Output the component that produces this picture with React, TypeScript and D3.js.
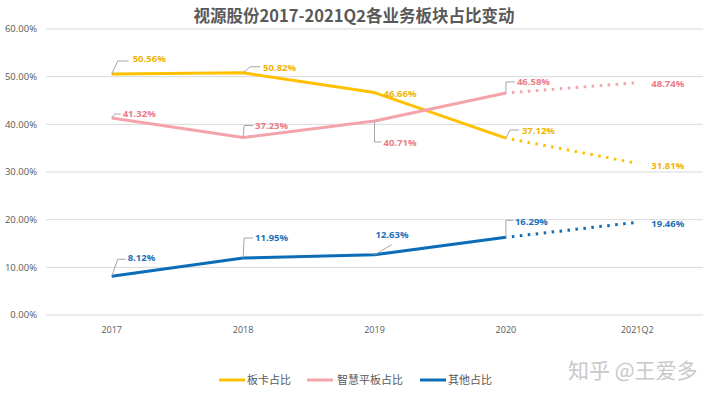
import { useMemo } from "react";
import * as d3 from "d3";

const categories = ["2017", "2018", "2019", "2020", "2021Q2"];
const boardShare = [50.56, 50.82, 46.66, 37.12, 31.81];
const tabletShare = [41.32, 37.23, 40.71, 46.58, 48.74];
const otherShare = [8.12, 11.95, 12.63, 16.29, 19.46];
const yTicks = [0, 10, 20, 30, 40, 50, 60];
const seriesNames = ["板卡占比", "智慧平板占比", "其他占比"];

// label placement per point: dx/dy to label, leader polyline (relative to point)
type Lab = { dx: number; dy: number; leader?: [number, number][] };
const boardLabels: Lab[] = [
  { dx: 21, dy: -15, leader: [[0, 0], [6, -13], [17, -13]] },
  { dx: 20, dy: -5, leader: [[0, 0], [7, -6], [17, -6]] },
  { dx: 9, dy: 1 },
  { dx: 16, dy: -7, leader: [[0, 0], [4, -8], [13, -8]] },
  { dx: 14, dy: 2 },
];
const tabletLabels: Lab[] = [
  { dx: 11, dy: -4, leader: [[0, 0], [3, -4], [9, -4]] },
  { dx: 12, dy: -12, leader: [[0, 0], [1, -12], [10, -12]] },
  { dx: 9, dy: 22, leader: [[0, 0], [0, 21], [7, 21]] },
  { dx: 11, dy: -11, leader: [[0, 0], [0, -11], [9, -11]] },
  { dx: 14, dy: 1 },
];
const otherLabels: Lab[] = [
  { dx: 16, dy: -19, leader: [[0, 0], [6, -17], [14, -17]] },
  { dx: 12, dy: -20, leader: [[0, 0], [1, -20], [10, -20]] },
  { dx: 1, dy: -20, leader: [[0, 0], [17, -10]] },
  { dx: 9, dy: -16, leader: [[0, 0], [0, -17], [7, -17]] },
  { dx: 14, dy: 1 },
];

const numFont = "'Open Sans', 'Noto Sans', sans-serif";
const cjkFont = "'Noto Sans CJK SC', sans-serif";

export default function App() {
  const width = 720;
  const height = 398;

  const x = useMemo(
    () => d3.scalePoint<string>().domain(categories).range([46, 703]).padding(0.5),
    []
  );
  const y = useMemo(() => d3.scaleLinear().domain([0, 60]).range([315, 29]), []);

  const series = [
    { name: seriesNames[0], values: boardShare, color: "#FFC000", text: "#F0B400", labels: boardLabels },
    { name: seriesNames[1], values: tabletShare, color: "#F4A3AB", text: "#EC7A88", labels: tabletLabels },
    { name: seriesNames[2], values: otherShare, color: "#0B6CB8", text: "#1C6FB8", labels: otherLabels },
  ];

  const line = d3
    .line<number>()
    .x((_, i) => x(categories[i])!)
    .y((d) => y(d));

  const leaderLine = d3.line<[number, number]>();

  const legendItems = [
    { x: 219, w: 26, tx: 247 },
    { x: 307, w: 26, tx: 337 },
    { x: 420, w: 26, tx: 448 },
  ];

  return (
    <svg
      width={width}
      height={height}
      style={{ position: "absolute", left: 0, top: 0, background: "#fff" }}
    >
      {/* title */}
      <text
        x={354}
        y={22}
        textAnchor="middle"
        fill="#595959"
        fontSize={16.5}
        fontWeight={700}
        fontFamily={cjkFont}
      >
        视源股份2017-2021Q2各业务板块占比变动
      </text>

      {/* grid + y labels */}
      {yTicks.map((t) => (
        <g key={t}>
          <line x1={46} x2={703} y1={y(t)} y2={y(t)} stroke="#d9d9d9" strokeWidth={1} />
          <text
            x={37}
            y={y(t)}
            dy="0.35em"
            textAnchor="end"
            fill="#595959"
            fontSize={9.5}
            fontFamily={numFont}
          >
            {t.toFixed(2)}%
          </text>
        </g>
      ))}

      {/* x labels */}
      {categories.map((c) => (
        <text
          key={c}
          x={x(c)}
          y={330}
          dy="0.35em"
          textAnchor="middle"
          fill="#595959"
          fontSize={9}
          fontFamily={numFont}
        >
          {c}
        </text>
      ))}

      {/* lines */}
      {series.map((s) => (
        <g key={s.name}>
          <path
            d={line(s.values.slice(0, 4)) ?? ""}
            fill="none"
            stroke={s.color}
            strokeWidth={3}
            strokeLinejoin="round"
          />
          <path
            d={
              d3
                .line<number>()
                .x((_, i) => x(categories[i + 3])!)
                .y((d) => y(d))(s.values.slice(3)) ?? ""
            }
            fill="none"
            stroke={s.color}
            strokeWidth={3}
            strokeDasharray="2.5 5.5"
            strokeDashoffset={-6}
          />
        </g>
      ))}

      {/* data labels */}
      {series.map((s) =>
        s.values.map((v, i) => {
          const px = x(categories[i])!;
          const py = y(v);
          const lab = s.labels[i];
          return (
            <g key={s.name + i}>
              {lab.leader && (
                <path
                  d={leaderLine(lab.leader.map(([a, b]) => [px + a, py + b] as [number, number])) ?? ""}
                  fill="none"
                  stroke="#a6a6a6"
                  strokeWidth={1}
                />
              )}
              <text
                x={px + lab.dx}
                y={py + lab.dy}
                dy="0.35em"
                fill={s.text}
                fontSize={9.5}
                fontWeight={700}
                fontFamily={numFont}
              >
                {v.toFixed(2)}%
              </text>
            </g>
          );
        })
      )}

      {/* legend */}
      {series.map((s, i) => (
        <g key={"lg" + s.name}>
          <line
            x1={legendItems[i].x}
            x2={legendItems[i].x + legendItems[i].w}
            y1={380}
            y2={380}
            stroke={s.color}
            strokeWidth={3}
          />
          <text
            x={legendItems[i].tx}
            y={380}
            dy="0.35em"
            fill="#595959"
            fontSize={11}
            fontFamily={cjkFont}
          >
            {s.name}
          </text>
        </g>
      ))}

      {/* watermark */}
      <text
        x={568}
        y={371}
        dy="0.35em"
        fill="#c8c8c8"
        fontSize={21}
        fontFamily={cjkFont}
      >
        知乎 @王爱多
      </text>
    </svg>
  );
}
